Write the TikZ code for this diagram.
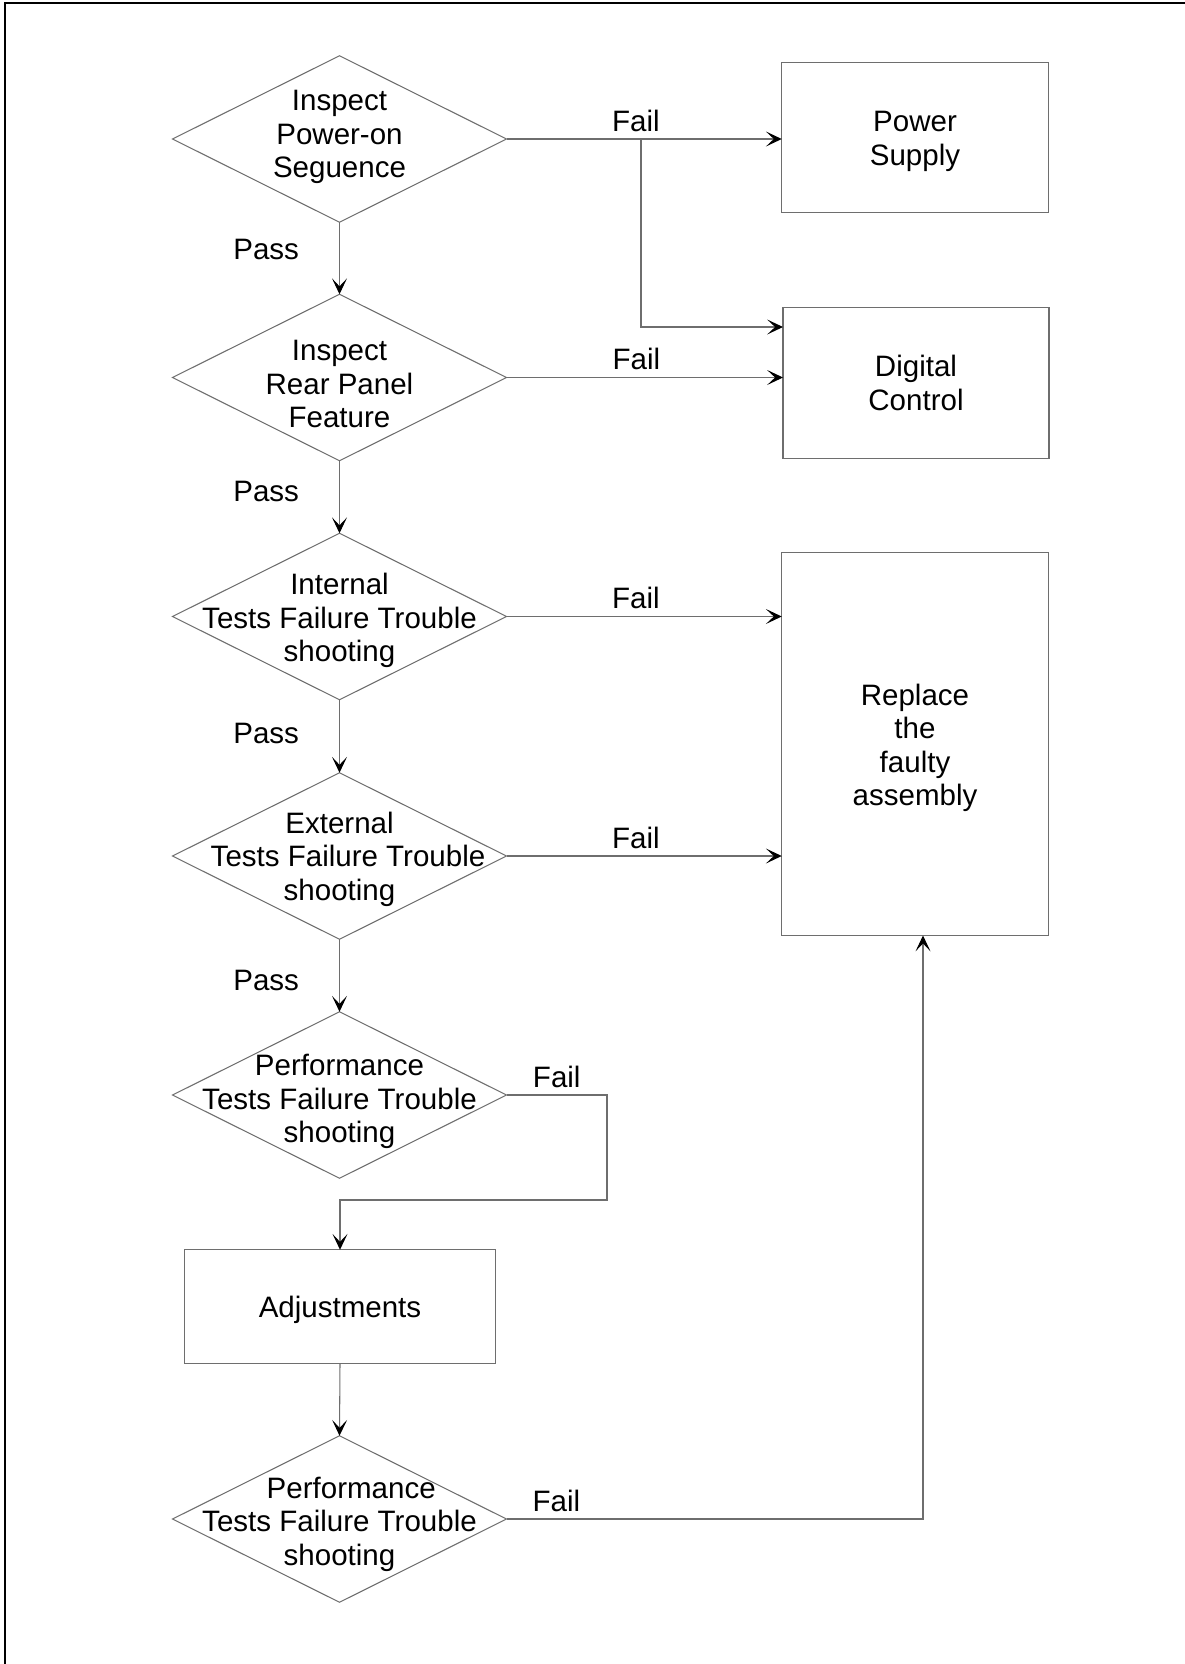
\documentclass[tikz,border=0pt]{standalone}
\usepackage{fontspec}
\setmainfont{Liberation Sans}
\usetikzlibrary{arrows.meta, shapes.geometric, positioning, calc}
\definecolor{LineGray}{RGB}{110,110,110}

\tikzset{
  txt/.style={align=center, font=\fontsize{16.8}{19}\selectfont},
  decision/.style={diamond, draw=LineGray, line width=0.6pt,
    minimum width=6.68cm, minimum height=3.33cm, inner sep=0pt, outer sep=0pt},
  block/.style={rectangle, draw=LineGray, line width=0.6pt, txt,
    inner sep=0pt, outer sep=0pt},
  flow/.style={draw=LineGray, line width=0.6pt,
    -{Stealth[length=9pt, width=8.5pt, inset=4.5pt, color=black]}},
  pass/.style={txt, left=0.66cm, inner sep=4pt},
  fail/.style={txt, above, inner sep=4pt},
}

\begin{document}
\begin{tikzpicture}
  \useasboundingbox (0,0) rectangle (23.7,-33.28);
  % frame (only top and left edges are visible)
  \draw[line width=1.7pt] (0.1,-33.28) -- (0.1,-0.06) -- (23.7,-0.06);

  % checks, top to bottom
  \node[decision, label={[txt, yshift=0.04cm]center:Inspect\\Power-on\\Seguence}] (d1) at (6.79,-2.78) {};
  \node[decision, label={[txt, yshift=-0.13cm]center:Inspect\\Rear Panel\\Feature}] (d2) at (6.79,-7.55) {};
  \node[decision, label={[txt, yshift=-0.08cm]center:Internal\\Tests Failure Trouble\\shooting}] (d3) at (6.79,-12.33) {};
  \node[decision, label={[txt, yshift=-0.06cm]center:External\\\hspace*{0.34cm}Tests Failure Trouble\\shooting}] (d4) at (6.79,-17.12) {};
  \node[decision, label={[txt, yshift=-0.13cm]center:Performance\\Tests Failure Trouble\\shooting}] (d5) at (6.79,-21.90) {};
  \node[block, minimum width=6.22cm, minimum height=2.27cm,
    label={[txt, yshift=-0.06cm]center:Adjustments}] (adj) at (6.80,-26.13) {};
  \node[decision, label={[txt, yshift=-0.1cm]center:\hspace*{0.47cm}Performance\\Tests Failure Trouble\\shooting}] (d6) at (6.79,-30.38) {};

  % repair actions
  \node[block, minimum width=5.33cm, minimum height=2.99cm,
    label={[txt, yshift=-0.08cm]center:Power\\Supply}] (ps) at (18.30,-2.75) {};
  \node[block, minimum width=5.32cm, minimum height=3.01cm] (dc) at (18.32,-7.66) {Digital\\Control};
  \node[block, minimum width=5.33cm, minimum height=7.66cm,
    label={[txt, yshift=-0.08cm]center:Replace\\the\\faulty\\assembly}] (rep) at (18.30,-14.88) {};

  % pass path
  \draw[flow] (d1.south) -- node[pass, pos=0.38] {Pass} (d2.north);
  \draw[flow] (d2.south) -- node[pass, pos=0.43] {Pass} (d3.north);
  \draw[flow] (d3.south) -- node[pass, pos=0.46] {Pass} (d4.north);
  \draw[flow] (d4.south) -- node[pass, pos=0.57] {Pass} (d5.north);
  \draw[flow] (adj.south) -- (d6.north);

  % fail paths
  \coordinate (split) at (12.82,-2.78);
  \draw[flow] (d1.east) -- node[fail, pos=0.47] {Fail} (ps.west |- d1.east);
  \draw[flow] (split) |- ([yshift=1.12cm]dc.west);
  \draw[flow] (d2.east) -- node[fail, pos=0.47] {Fail} (dc.west |- d2.east);
  \draw[flow] (d3.east) -- node[fail, pos=0.47] {Fail} (rep.west |- d3.east);
  \draw[flow] (d4.east) -- node[fail, pos=0.47] {Fail} (rep.west |- d4.east);
  \coordinate (loop) at (12.14,-24.0);
  \draw[flow] (d5.east) -| node[fail, pos=0.25] {Fail} (loop) -| (adj.north);
  \draw[flow] (d6.east) -| node[fail, pos=0.06] {Fail} ([xshift=0.16cm]rep.south);
\end{tikzpicture}
\end{document}
